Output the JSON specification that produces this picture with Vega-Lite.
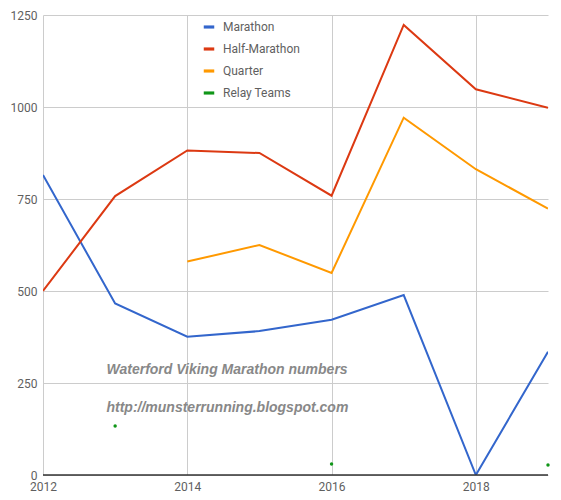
{
  "$schema": "https://vega.github.io/schema/vega-lite/v6.json",
  "width": 505,
  "height": 460,
  "autosize": "none",
  "padding": {"left": 43, "top": 15, "right": 13, "bottom": 25},
  "background": "white",
  "config": {
    "view": {"stroke": null},
    "font": "Roboto",
    "axis": {
      "labelFont": "Roboto",
      "labelFontSize": 12,
      "labelColor": "#5f5f5f",
      "gridColor": "#cccccc",
      "gridWidth": 1,
      "domain": false,
      "ticks": false,
      "title": null
    },
    "legend": {
      "labelFont": "Roboto",
      "labelFontSize": 12,
      "labelColor": "#5f5f5f",
      "labelOffset": 8,
      "symbolType": "M-1,-0.3L1,-0.3L1,0.3L-1,0.3Z",
      "symbolSize": 110,
      "symbolStrokeWidth": 0,
      "rowPadding": 10,
      "fillColor": "white",
      "padding": 5
    }
  },
  "datasets": {
    "runners": [
      {"year": 2012, "series": "Marathon", "value": 815},
      {"year": 2013, "series": "Marathon", "value": 466},
      {"year": 2014, "series": "Marathon", "value": 376},
      {"year": 2015, "series": "Marathon", "value": 391},
      {"year": 2016, "series": "Marathon", "value": 422},
      {"year": 2017, "series": "Marathon", "value": 489},
      {"year": 2018, "series": "Marathon", "value": 0},
      {"year": 2019, "series": "Marathon", "value": 335},
      {"year": 2012, "series": "Half-Marathon", "value": 500},
      {"year": 2013, "series": "Half-Marathon", "value": 758},
      {"year": 2014, "series": "Half-Marathon", "value": 882},
      {"year": 2015, "series": "Half-Marathon", "value": 875},
      {"year": 2016, "series": "Half-Marathon", "value": 759},
      {"year": 2017, "series": "Half-Marathon", "value": 1223},
      {"year": 2018, "series": "Half-Marathon", "value": 1048},
      {"year": 2019, "series": "Half-Marathon", "value": 998},
      {"year": 2014, "series": "Quarter", "value": 580},
      {"year": 2015, "series": "Quarter", "value": 625},
      {"year": 2016, "series": "Quarter", "value": 549},
      {"year": 2017, "series": "Quarter", "value": 971},
      {"year": 2018, "series": "Quarter", "value": 831},
      {"year": 2019, "series": "Quarter", "value": 724},
      {"year": 2013, "series": "Relay Teams", "value": 133},
      {"year": 2016, "series": "Relay Teams", "value": 30},
      {"year": 2019, "series": "Relay Teams", "value": 27}
    ],
    "notes": [
      {"label": "Waterford Viking Marathon numbers", "year": 2012.88, "value": 284},
      {"label": "http://munsterrunning.blogspot.com", "year": 2012.88, "value": 183}
    ]
  },
  "data": {"name": "runners"},
  "encoding": {
    "x": {
      "field": "year",
      "type": "quantitative",
      "scale": {"domain": [2012, 2019], "nice": false, "zero": false},
      "axis": {"values": [2012, 2014, 2016, 2018], "format": "d", "labelPadding": 6, "labelFlush": false}
    },
    "y": {
      "field": "value",
      "type": "quantitative",
      "scale": {"domain": [0, 1250], "nice": false},
      "axis": {"values": [0, 250, 500, 750, 1000, 1250], "format": "d", "labelPadding": 6}
    }
  },
  "layer": [
    {
      "transform": [{"filter": "datum.series !== 'Relay Teams'"}],
      "mark": {"type": "line", "strokeWidth": 2, "clip": true},
      "encoding": {
        "order": {"field": "year"},
        "color": {
          "field": "series",
          "type": "nominal",
          "scale": {
            "domain": ["Marathon", "Half-Marathon", "Quarter", "Relay Teams"],
            "range": ["#3366cc", "#dc3912", "#ff9900", "#109618"]
          },
          "legend": {"title": null, "orient": "none", "legendX": 155, "legendY": 1}
        }
      }
    },
    {
      "transform": [{"filter": "datum.series === 'Relay Teams'"}],
      "mark": {"type": "point", "filled": true, "size": 12, "opacity": 1},
      "encoding": {
        "color": {
          "field": "series",
          "type": "nominal",
          "scale": {
            "domain": ["Marathon", "Half-Marathon", "Quarter", "Relay Teams"],
            "range": ["#3366cc", "#dc3912", "#ff9900", "#109618"]
          },
          "legend": {"title": null, "orient": "none", "legendX": 155, "legendY": 1}
        }
      }
    },
    {
      "data": {"name": "notes"},
      "transform": [{"filter": "datum.value === 284"}],
      "mark": {"type": "rule", "color": "#333333", "strokeWidth": 1.5},
      "encoding": {"x": null, "y": {"datum": 0, "type": "quantitative"}}
    },
    {
      "data": {"name": "notes"},
      "mark": {"type": "text", "align": "left", "baseline": "middle", "font": "Liberation Sans", "fontSize": 14, "fontWeight": "bold", "fontStyle": "italic", "color": "#888888"},
      "encoding": {
        "text": {"field": "label"}
      }
    }
  ]
}
